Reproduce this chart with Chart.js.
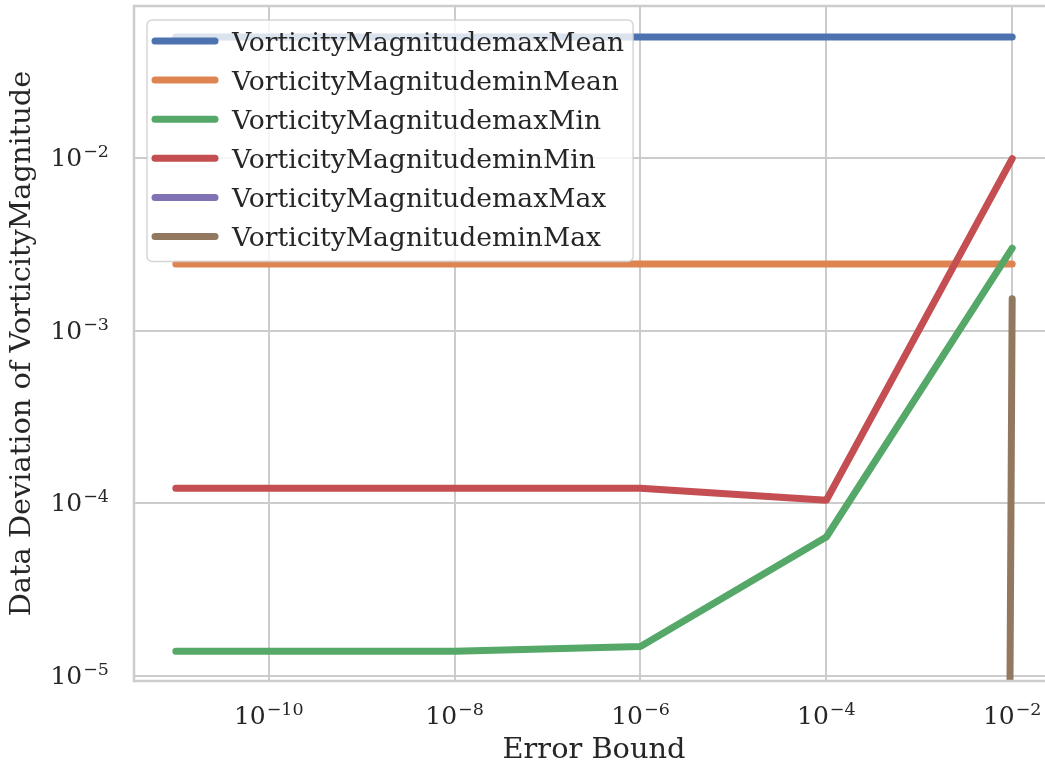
<!DOCTYPE html>
<html lang="en">
<head>
<meta charset="UTF-8">
<title>Data Deviation of VorticityMagnitude</title>
<script src="https://cdn.jsdelivr.net/npm/chart.js@4"></script>
<style>
  html, body { margin: 0; padding: 0; background: #fff; overflow: hidden; }
  #wrap { width: 1045px; height: 768px; overflow: hidden; }
</style>
</head>
<body>
<div id="wrap"><canvas id="deviationChart" width="1060" height="768"></canvas></div>
<script>
// error bounds (x) and the deviation of each statistic (y)
const errorBounds = [1e-11, 1e-8, 1e-6, 1e-4, 1e-2];
const maxMean = [0.0501, 0.0501, 0.0501, 0.0501, 0.0501];
const minMean = [0.00243, 0.00243, 0.00243, 0.00243, 0.00243];
const maxMin = [1.39e-5, 1.39e-5, 1.48e-5, 6.37e-5, 3.0e-3];
const minMin = [1.22e-4, 1.22e-4, 1.22e-4, 1.04e-4, 0.0099];
const maxMax = [0, 0, 0, 0, 0];
const minMax = [0, 0, 0, 0, 1.53e-3];

const seriesLabels = [
  'VorticityMagnitudemaxMean', 'VorticityMagnitudeminMean',
  'VorticityMagnitudemaxMin', 'VorticityMagnitudeminMin',
  'VorticityMagnitudemaxMax', 'VorticityMagnitudeminMax'
];
const seriesValues = [maxMean, minMean, maxMin, minMin, maxMax, minMax];
const seriesColors = ['#4c72b0', '#dd8452', '#55a868', '#c44e52', '#8172b3', '#937860'];

// decade exponents used as tick labels
const xTickExps = [-10, -8, -6, -4, -2];
const yTickExps = [-5, -4, -3, -2];

const FONT = "'DejaVu Serif', serif";
const TEXT = '#262626';
const GRID = '#cccccc';
// zeros cannot live on a log axis: push them far below the view, so the line dives off the bottom
const LOG_FLOOR = 1e-300;

const datasets = seriesLabels.map((label, i) => ({
  label: label,
  data: errorBounds.map((x, j) => ({ x: x, y: seriesValues[i][j] > 0 ? seriesValues[i][j] : LOG_FLOOR })),
  borderColor: seriesColors[i],
  backgroundColor: seriesColors[i],
  borderWidth: 7,
  borderCapStyle: 'round',
  borderJoinStyle: 'round',
  pointRadius: 0,
  fill: false,
  clip: 0,
  order: -i
}));

const SUPER = { '-': '\u2212' };
function drawPower(ctx, exp, x, y, align) {
  const base = '10';
  const sup = String(exp).split('').map(c => SUPER[c] || c).join('');
  ctx.font = '25px ' + FONT;
  const wb = ctx.measureText(base).width;
  ctx.font = '17.5px ' + FONT;
  const ws = ctx.measureText(sup).width;
  const total = wb + ws + 1;
  let x0 = align === 'center' ? x - total / 2 : x - total;
  ctx.fillStyle = TEXT;
  ctx.textBaseline = 'alphabetic';
  ctx.textAlign = 'left';
  ctx.font = '25px ' + FONT;
  ctx.fillText(base, x0, y);
  ctx.font = '17.5px ' + FONT;
  ctx.fillText(sup, x0 + wb + 1, y - 9);
}

const tickLabels = {
  id: 'tickLabels',
  afterDraw(chart) {
    const { ctx, chartArea, scales } = chart;
    ctx.save();
    xTickExps.forEach(e => {
      drawPower(ctx, e, scales.x.getPixelForValue(10 ** e), chartArea.bottom + 43, 'center');
    });
    yTickExps.forEach(e => {
      drawPower(ctx, e, chartArea.left - 25, scales.y.getPixelForValue(10 ** e) + 8, 'right');
    });
    ctx.restore();
  }
};

// light grey box around the plotting area
const frame = {
  id: 'frame',
  afterDatasetsDraw(chart) {
    const { ctx, chartArea: a } = chart;
    ctx.save();
    ctx.strokeStyle = GRID;
    ctx.lineWidth = 2.5;
    ctx.strokeRect(a.left, a.top, a.right - a.left, a.bottom - a.top);
    ctx.restore();
  }
};

// legend drawn inside the plot, on a translucent box
const insideLegend = {
  id: 'insideLegend',
  afterDatasetsDraw(chart) {
    const { ctx, chartArea: a } = chart;
    const items = chart.data.datasets;
    const left = a.left + 13, top = a.top + 14;
    const rowH = 39.1, firstRow = 21;
    const handleX = 8, handleLen = 60, textX = 85;
    ctx.save();
    ctx.font = '26.6px ' + FONT;
    const textW = Math.max(...items.map(d => ctx.measureText(d.label).width));
    const w = textX + textW + 9;
    const h = firstRow + rowH * (items.length - 1) + 25;
    ctx.beginPath();
    ctx.roundRect(left, top, w, h, 5);
    ctx.fillStyle = 'rgba(255,255,255,0.8)';
    ctx.fill();
    ctx.strokeStyle = 'rgba(204,204,204,0.8)';
    ctx.lineWidth = 1.5;
    ctx.stroke();
    items.forEach((d, i) => {
      const y = top + firstRow + i * rowH;
      ctx.beginPath();
      ctx.moveTo(left + handleX, y);
      ctx.lineTo(left + handleX + handleLen, y);
      ctx.strokeStyle = d.borderColor;
      ctx.lineWidth = 7;
      ctx.lineCap = 'round';
      ctx.stroke();
      ctx.fillStyle = TEXT;
      ctx.textBaseline = 'alphabetic';
      ctx.fillText(d.label, left + textX, y + 9.5);
    });
    ctx.restore();
  }
};

new Chart(document.getElementById('deviationChart'), {
  type: 'line',
  data: { datasets: datasets },
  options: {
    responsive: false,
    animation: false,
    events: [],
    layout: { padding: { top: 6, right: 6, left: 0, bottom: 0 } },
    plugins: { legend: { display: false }, tooltip: { enabled: false } },
    scales: {
      x: {
        type: 'logarithmic',
        bounds: 'data',
        min: 10 ** -11.45,
        max: 10 ** -1.55,
        afterBuildTicks: s => { s.ticks = xTickExps.map(e => ({ value: 10 ** e })); },
        afterFit: s => { s.height = 87; },
        ticks: { display: false },
        grid: { color: GRID, lineWidth: 2, drawTicks: false },
        border: { display: false },
        title: { display: true, text: 'Error Bound', color: TEXT,
                 font: { family: FONT, size: 28.8 }, padding: { top: 0, bottom: 0 } }
      },
      y: {
        type: 'logarithmic',
        bounds: 'data',
        min: 10 ** -5.03,
        max: 10 ** -1.12,
        afterBuildTicks: s => { s.ticks = yTickExps.map(e => ({ value: 10 ** e })); },
        afterFit: s => { s.width = 134; },
        ticks: { display: false },
        grid: { color: GRID, lineWidth: 2, drawTicks: false },
        border: { display: false },
        title: { display: true, text: 'Data Deviation of VorticityMagnitude', color: TEXT,
                 font: { family: FONT, size: 28.8 }, padding: { top: 5.5, bottom: 0 } }
      }
    }
  },
  plugins: [tickLabels, frame, insideLegend]
});
</script>
</body>
</html>
